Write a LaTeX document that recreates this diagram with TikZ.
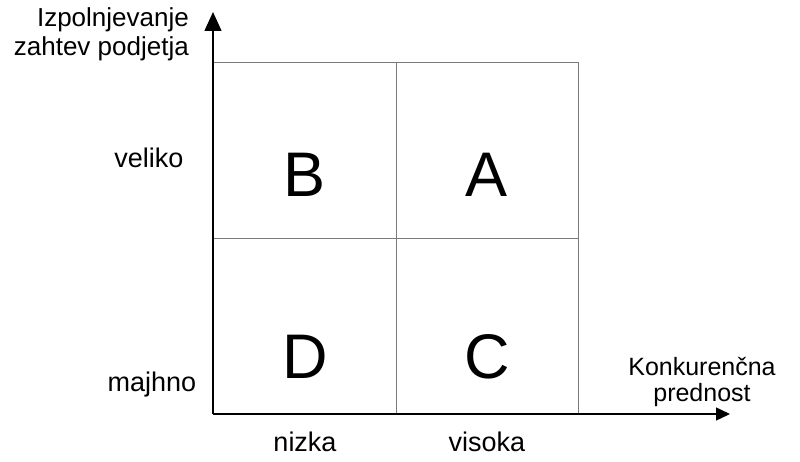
\documentclass[tikz,border=0pt]{standalone}
\usepackage{fontspec}
\setmainfont{Liberation Sans}
\usetikzlibrary{arrows.meta,positioning}
\definecolor{matInk}{HTML}{000000}
\definecolor{matGrid}{HTML}{7A7A7A}
\tikzset{
    axis/.style={line width=1.4pt, draw=matInk},
    gridline/.style={line width=1pt, draw=matGrid},
    quad/.style={font=\fontsize{63}{63}\selectfont, text=matInk, inner sep=0pt},
    lbl/.style={font=\fontsize{27}{29}\selectfont, text=matInk, inner sep=0pt},
    axlbl/.style={font=\fontsize{25}{26}\selectfont, text=matInk, inner sep=0pt, align=center}
}
\begin{document}
\begin{tikzpicture}[x=1pt,y=-1pt]
\useasboundingbox (0,0) rectangle (800,462);
\coordinate (o) at (213,414);
\coordinate (ytip) at (213,12);
\coordinate (xtip) at (730,414);
% quadrant grid
\draw[gridline] (213,63) -- (578,63) -- (578,414);
\draw[gridline] (396,63) -- (396,414);
\draw[gridline] (213,239) -- (578,239);
% axes
\draw[axis, -{Triangle[length=19pt,width=17pt]}] (o) -- (ytip);
\draw[axis, -{Triangle[length=14pt,width=13pt]}] (o) -- (xtip);
\node[quad] (b) at (305,175) {B};
\node[quad] (a) at (487,175) {A};
\node[quad] (d) at (305,357) {D};
\node[quad] (c) at (487,357) {C};
\node[lbl, font=\fontsize{26}{29}\selectfont, align=right, anchor=east] (ytitle) at (189,34) {Izpolnjevanje\\zahtev podjetja};
\node[axlbl] (xtitle) at (702,382) {Konkurenčna\\prednost};
\node[lbl] (hi) at (149,158) {veliko};
\node[lbl] (lo) at (152,385) {majhno};
\node[lbl] (low) at (305,442) {nizka};
\node[lbl] (high) at (487,442) {visoka};
\end{tikzpicture}
\end{document}
